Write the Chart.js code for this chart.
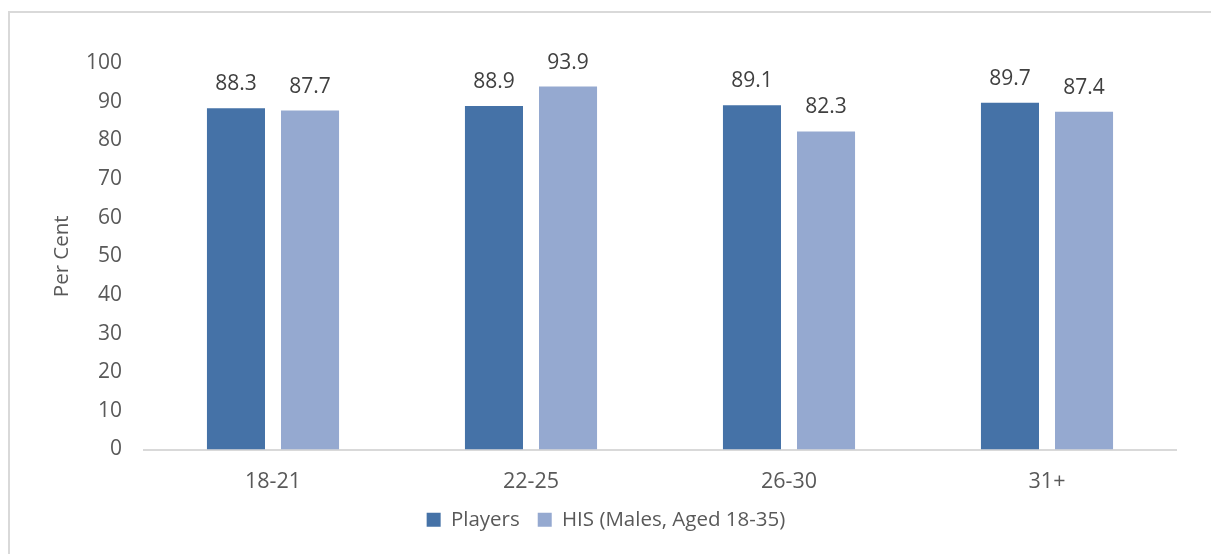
<!DOCTYPE html>
<html>
<head>
<meta charset="utf-8">
<script src="https://cdn.jsdelivr.net/npm/chart.js@4.4.1/dist/chart.umd.min.js"></script>
<style>
  html, body { margin: 0; padding: 0; background: #fff; }
  #frame {
    position: absolute; left: 8px; top: 11px;
    width: 1300px; height: 700px;
    border-left: 2px solid #d9d9d9; border-top: 2px solid #d9d9d9;
  }
  #wrap { position: absolute; left: 0; top: 0; width: 1211px; height: 554px; }
</style>
</head>
<body>
<div id="frame"></div>
<div id="wrap"><canvas id="chart" width="1211" height="554"></canvas></div>
<script>
// age groups and the two series (per cent)
const ageGroups = ["18-21", "22-25", "26-30", "31+"];
const players = [88.3, 88.9, 89.1, 89.7];
const his = [87.7, 93.9, 82.3, 87.4];
const seriesNames = ["Players", "HIS (Males, Aged 18-35)"];

const textColor = "#595959";
const fontFamily = "'Open Sans', sans-serif";

// draws the value above each bar
const valueLabels = {
  id: "valueLabels",
  afterDatasetsDraw(chart) {
    const ctx = chart.ctx;
    ctx.save();
    ctx.font = "21px " + fontFamily;
    ctx.fillStyle = "#404040";
    ctx.textAlign = "center";
    ctx.textBaseline = "middle";
    chart.data.datasets.forEach((ds, i) => {
      chart.getDatasetMeta(i).data.forEach((bar, j) => {
        ctx.fillText(ds.data[j].toFixed(1), bar.x, bar.y - 24);
      });
    });
    ctx.restore();
  }
};

new Chart(document.getElementById("chart"), {
  type: "bar",
  plugins: [valueLabels],
  data: {
    labels: ageGroups,
    datasets: [
      { label: seriesNames[0], data: players, backgroundColor: "#4572a7" },
      { label: seriesNames[1], data: his, backgroundColor: "#95a9d0" }
    ]
  },
  options: {
    responsive: false,
    animation: false,
    layout: { padding: { left: 18, right: 17, top: 63, bottom: 14 } },
    datasets: { bar: { categoryPercentage: 0.574, barPercentage: 0.784 } },
    plugins: {
      tooltip: { enabled: false },
      legend: {
        position: "bottom",
        labels: {
          color: textColor,
          font: { family: fontFamily, size: 20.5 },
          boxWidth: 14,
          boxHeight: 14,
          padding: 18
        }
      }
    },
    scales: {
      x: {
        grid: { display: false },
        border: { color: "#d9d9d9", width: 2 },
        ticks: { color: textColor, font: { family: fontFamily, size: 21.5 }, padding: 11 },
        afterFit(scale) { scale.height = 42; }
      },
      y: {
        min: 0,
        max: 100,
        ticks: { stepSize: 10, color: textColor, font: { family: fontFamily, size: 21 }, padding: 22 },
        grid: { display: false, drawTicks: false },
        border: { display: false },
        title: {
          display: true,
          text: "Per Cent",
          color: textColor,
          font: { family: fontFamily, size: 20.5 },
          padding: { top: 32, bottom: 0 }
        },
        afterFit(scale) { scale.width = 126; }
      },
      // empty spacer on the right so the legend sits where it does in the original
      yRight: {
        position: "right",
        ticks: { display: false },
        grid: { display: false, drawTicks: false },
        border: { display: false },
        afterFit(scale) { scale.width = 18; }
      }
    }
  }
});
</script>
</body>
</html>
